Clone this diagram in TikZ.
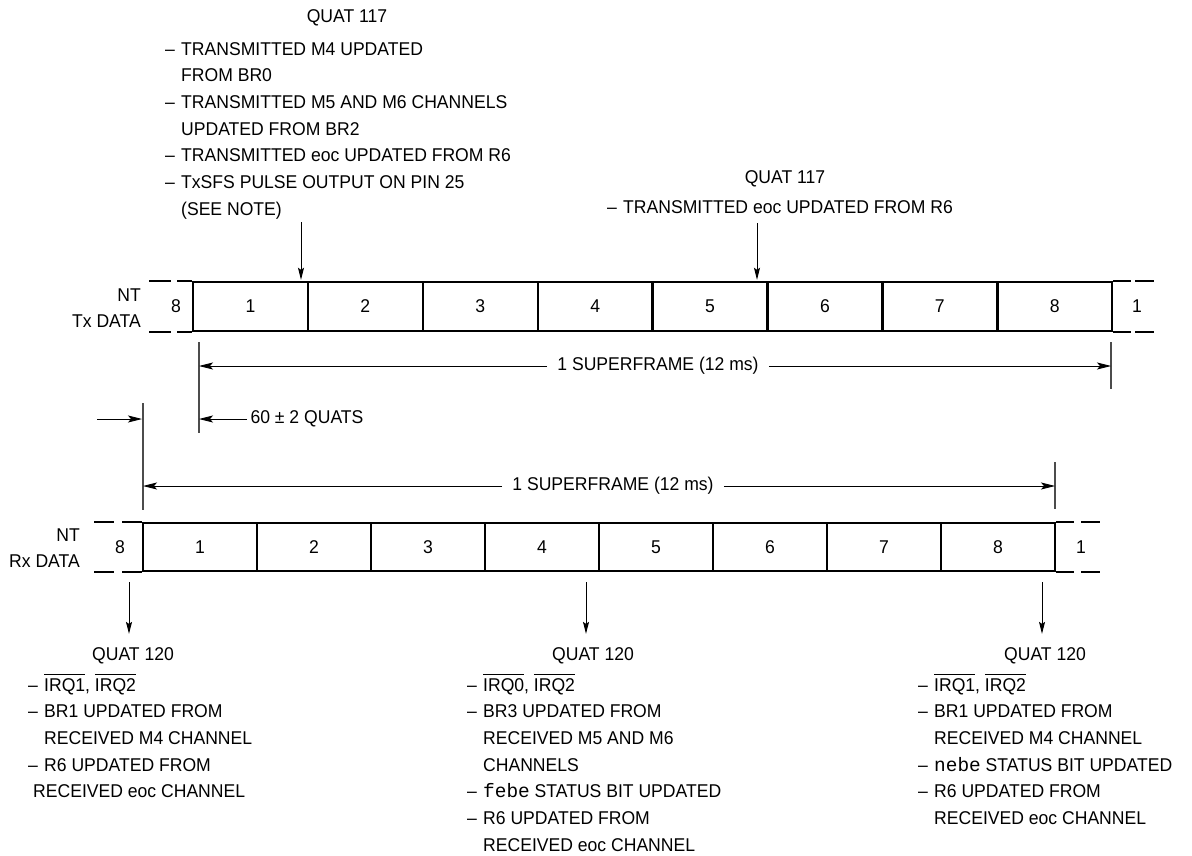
\documentclass[tikz,border=0pt]{standalone}
\usepackage{fontspec}
\setmainfont{Liberation Sans}[FakeStretch=0.95]
\setmonofont{Liberation Mono}[Scale=1.05]
\usepackage{tikz}
\usetikzlibrary{arrows.meta}

\newcommand{\dashitem}{\makebox[16pt][l]{--}}
\newcommand{\contline}{\hspace*{16pt}}
\newcommand{\notsig}[1]{$\overline{\rule{0pt}{15.5pt}\mbox{#1}}$}

\begin{document}
\begin{tikzpicture}[x=1pt,y=-1pt,
  every node/.style={font=\fontsize{18.5}{26.7}\selectfont},
  slot/.style={draw,line width=2.4pt,minimum width=114.9pt,minimum height=49pt,inner sep=0pt},
  rowline/.style={line width=2.4pt},
  tick/.style={black!70,line width=1.3pt},
  dim/.style={line width=0.9pt,-{Stealth[length=14pt,width=7pt,inset=3pt]}},
  sig/.style={line width=1pt,shorten >=1pt,-{Stealth[length=12pt,width=6pt,inset=2pt]}},
  notes/.style={align=left,inner sep=0pt,anchor=north west},
  title/.style={inner sep=0pt,anchor=base},
  rowlab/.style={align=right,anchor=east,inner sep=0pt,font=\fontsize{18.5}{25.5}\selectfont}]
\useasboundingbox (0,0) rectangle (1192,856);

% NT Tx DATA
\node[rowlab] (txlab) at (141,308) {NT\\Tx DATA};
\node (tx0) at (176,306.5) {8};
\node[slot] (tx1) at (250.45,306.5) {1};
\node[slot] (tx2) at (365.35,306.5) {2};
\node[slot] (tx3) at (480.25,306.5) {3};
\node[slot] (tx4) at (595.15,306.5) {4};
\node[slot] (tx5) at (710.05,306.5) {5};
\node[slot] (tx6) at (824.95,306.5) {6};
\node[slot] (tx7) at (939.85,306.5) {7};
\node[slot] (tx8) at (1054.75,306.5) {8};
\node (tx9) at (1137,306.5) {1};
\draw[rowline] (tx1.north west) -- ++(-15,0) ++(-6,0) -- ++(-22,0);
\draw[rowline] (tx1.south west) -- ++(-15,0) ++(-6,0) -- ++(-22,0);
\draw[rowline] (tx8.north east) -- ++(18,0) ++(4,0) -- ++(19,0);
\draw[rowline] (tx8.south east) -- ++(18,0) ++(4,0) -- ++(19,0);

% NT Rx DATA
\node[rowlab] (rxlab) at (80,548) {NT\\Rx DATA};
\node (rx0) at (120,547) {8};
\node[slot,minimum width=114pt,minimum height=48pt] (rx1) at (200,547) {1};
\node[slot,minimum width=114pt,minimum height=48pt] (rx2) at (314,547) {2};
\node[slot,minimum width=114pt,minimum height=48pt] (rx3) at (428,547) {3};
\node[slot,minimum width=114pt,minimum height=48pt] (rx4) at (542,547) {4};
\node[slot,minimum width=114pt,minimum height=48pt] (rx5) at (656,547) {5};
\node[slot,minimum width=114pt,minimum height=48pt] (rx6) at (770,547) {6};
\node[slot,minimum width=114pt,minimum height=48pt] (rx7) at (884,547) {7};
\node[slot,minimum width=114pt,minimum height=48pt] (rx8) at (998,547) {8};
\node (rx9) at (1081,547) {1};
\draw[rowline] (rx1.north west) -- ++(-20,0) ++(-8,0) -- ++(-20,0);
\draw[rowline] (rx1.south west) -- ++(-20,0) ++(-8,0) -- ++(-20,0);
\draw[rowline] (rx8.north east) -- ++(18,0) ++(7,0) -- ++(19,0);
\draw[rowline] (rx8.south east) -- ++(18,0) ++(7,0) -- ++(19,0);

% superframe and offset
\draw[tick] (199,342) -- (199,433);
\draw[tick] (1111,342) -- (1111,389);
\draw[tick] (143,403) -- (143,510);
\draw[tick] (1055,462) -- (1055,509);
\coordinate (txA) at (199,366);
\coordinate (txB) at (1111,366);
\coordinate (rxA) at (143,486);
\coordinate (rxB) at (1055,486);
\coordinate (qtA) at (199,419);
\coordinate (qtB) at (97,419);
\coordinate (qtC) at (142,419);
\node[inner xsep=10pt] (sfTx) at (658,366) {1 SUPERFRAME (12 ms)};
\draw[dim] (sfTx) -- (txA);
\draw[dim] (sfTx) -- (txB);
\node[inner xsep=10pt] (sfRx) at (613,486) {1 SUPERFRAME (12 ms)};
\draw[dim] (sfRx) -- (rxA);
\draw[dim] (sfRx) -- (rxB);
\node[anchor=west] (qts) at (247,419) {60 ± 2 QUATS};
\draw[dim] (qts) -- (qtA);
\draw[dim] (qtB) -- (qtC);

% quat 117 notes
\node[title] (qTL) at (347,23) {QUAT 117};
\node[notes] (nTL) at (165,36.3) {\strut\dashitem TRANSMITTED M4 UPDATED\\
  \contline FROM BR0\\
  \dashitem TRANSMITTED M5 AND M6 CHANNELS\\
  \contline UPDATED FROM BR2\\
  \dashitem TRANSMITTED eoc UPDATED FROM R6\\
  \dashitem TxSFS PULSE OUTPUT ON PIN 25\\
  \contline (SEE NOTE)};
\node[title] (qTR) at (785,184) {QUAT 117};
\node[notes] (nTR) at (607,194.3) {\strut\dashitem TRANSMITTED eoc UPDATED FROM R6};
\coordinate (s1) at (301,222);
\coordinate (s2) at (757,223);
\draw[sig] (s1) -- (s1 |- tx1.north);
\draw[sig] (s2) -- (s2 |- tx5.north);

% quat 120 notes
\coordinate (r1) at (129,582);
\coordinate (r2) at (586,582);
\coordinate (r3) at (1042,582);
\node[title] (qBL) at (133,660) {QUAT 120};
\node[title] (qBM) at (593,660) {QUAT 120};
\node[title] (qBR) at (1045,660) {QUAT 120};
\draw[sig] (r1) -- ([yshift=12pt]r1 |- qBL.north);
\draw[sig] (r2) -- ([yshift=12pt]r2 |- qBM.north);
\draw[sig] (r3) -- ([yshift=12pt]r3 |- qBR.north);
\node[notes] (nBL) at (28,672.3) {\strut\dashitem \notsig{IRQ1}, \notsig{IRQ2}\\
  \dashitem BR1 UPDATED FROM\\
  \contline RECEIVED M4 CHANNEL\\
  \dashitem R6 UPDATED FROM\\
  \hspace*{5pt}RECEIVED eoc CHANNEL};
\node[notes] (nBM) at (467,672.3) {\strut\dashitem \notsig{IRQ0}, \notsig{IRQ2}\\
  \dashitem BR3 UPDATED FROM\\
  \contline RECEIVED M5 AND M6\\
  \contline CHANNELS\\
  \dashitem \texttt{febe} STATUS BIT UPDATED\\
  \dashitem R6 UPDATED FROM\\
  \contline RECEIVED eoc CHANNEL};
\node[notes] (nBR) at (918,672.3) {\strut\dashitem \notsig{IRQ1}, \notsig{IRQ2}\\
  \dashitem BR1 UPDATED FROM\\
  \contline RECEIVED M4 CHANNEL\\
  \dashitem \texttt{nebe} STATUS BIT UPDATED\\
  \dashitem R6 UPDATED FROM\\
  \contline RECEIVED eoc CHANNEL};

\end{tikzpicture}
\end{document}
